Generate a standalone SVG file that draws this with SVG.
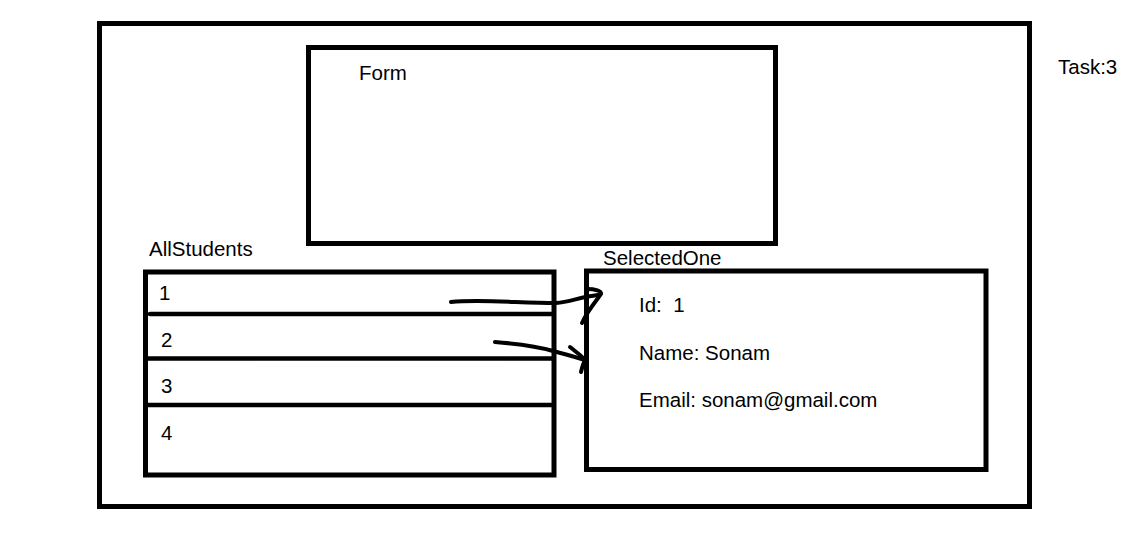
<svg xmlns="http://www.w3.org/2000/svg" width="1143" height="533" viewBox="0 0 1143 533">
<style>
.box{fill:none;stroke:#000;stroke-width:5}
.ln{fill:none;stroke:#000;stroke-width:4.5;stroke-linecap:round}
.pen{fill:none;stroke:#000;stroke-width:4;stroke-linecap:round;stroke-linejoin:round}
text{font-family:"Liberation Sans",Arial,sans-serif;font-size:20.5px;fill:#000}
</style>
<rect width="1143" height="533" fill="#fff"/>
<g id="outer"><rect class="box" x="99.5" y="23.5" width="930" height="483"/></g>
<g id="task"><text x="1058" y="74">Task:3</text></g>
<g id="form"><rect class="box" x="308.5" y="47.5" width="467" height="196"/><text x="359" y="80">Form</text></g>
<g id="allstudents">
<text x="149" y="256">AllStudents</text>
<rect class="box" x="145.5" y="272" width="408.5" height="203" stroke-width="4.5"/>
<line class="ln" x1="150" y1="314" x2="552" y2="314" stroke-width="5"/>
<line class="ln" x1="146" y1="358.5" x2="552" y2="358.5"/>
<line class="ln" x1="146" y1="405" x2="552" y2="405"/>
<text x="159" y="300">1</text>
<text x="161" y="347">2</text>
<text x="161" y="393">3</text>
<text x="161" y="440">4</text>
</g>
<g id="selectedone">
<text x="603" y="265">SelectedOne</text>
<rect class="box" x="586.5" y="271" width="399.5" height="198.5"/>
<text x="639" y="312">Id:&#160; 1</text>
<text x="639" y="360">Name: Sonam</text>
<text x="639" y="407">Email: sonam@gmail.com</text>
</g>
<g id="connectors">
<path class="pen" d="M451 302 C480 299 520 303 556 303 C570 302 580 297 598 295"/>
<path class="pen" d="M587 289 C595 289 602 291 601 294 C597 300 588 310 582 323"/>
<path class="pen" d="M495 342 C520 344 540 347 553 351 C565 354 575 357 585 360"/>
<path class="pen" d="M570 347 C576 352 582 356 585 360 C583 364 582 368 581 372"/>
</g>
</svg>
